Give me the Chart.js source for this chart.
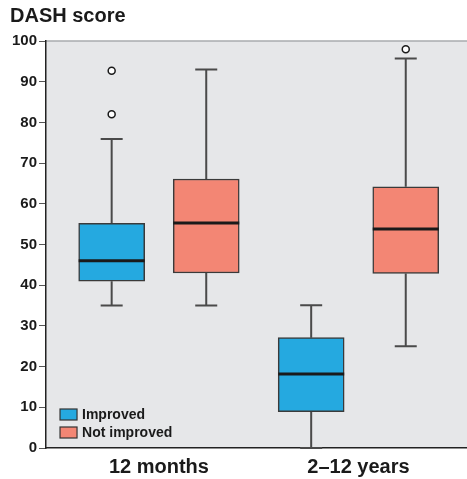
<!DOCTYPE html>
<html>
<head>
<title>DASH score</title>
<script src="https://cdn.jsdelivr.net/npm/chart.js@4"></script>
<style>
body { margin: 0; background: #fff; }
</style>
</head>
<body>
<canvas id="dashChart" width="467" height="479"></canvas>
<script>
var categories = ['12 months', '2\u201312 years'];
var seriesNames = ['Improved', 'Not improved'];
var yTicks = [0, 10, 20, 30, 40, 50, 60, 70, 80, 90, 100];

var improvedMin = [35, 0];
var improvedQ1 = [41, 8.9];
var improvedMedian = [46, 18.2];
var improvedQ3 = [55.2, 27.1];
var improvedMax = [75.9, 35.1];
var improvedOutliers = [[92.7, 82], []];

var notImprovedMin = [35, 25];
var notImprovedQ1 = [43, 42.9];
var notImprovedMedian = [55.3, 53.8];
var notImprovedQ3 = [66.1, 64.2];
var notImprovedMax = [93, 95.7];
var notImprovedOutliers = [[], [98]];

var FONT = "'Liberation Sans', Arial, sans-serif";
var BLUE = '#25a9e0';
var SALMON = '#f38674';
var OFFSET = 0.237;   // distance of each box from the category centre, in x units
var BOX_W = 66;       // px
var CAP_W = 22;       // px

var series = [
    { name: seriesNames[0], color: BLUE, off: -OFFSET, min: improvedMin, q1: improvedQ1, med: improvedMedian, q3: improvedQ3, max: improvedMax, out: improvedOutliers },
    { name: seriesNames[1], color: SALMON, off: OFFSET, min: notImprovedMin, q1: notImprovedQ1, med: notImprovedMedian, q3: notImprovedQ3, max: notImprovedMax, out: notImprovedOutliers }
];

function boxData(s) {
    return s.q1.map(function(v, i) {
        return { x: i + 1 + s.off, y: [v, s.q3[i]] };
    });
}

function outlierData() {
    var pts = [];
    series.forEach(function(s) {
        s.out.forEach(function(list, i) {
            list.forEach(function(v) { pts.push({ x: i + 1 + s.off, y: v }); });
        });
    });
    return pts;
}

var boxExtras = {
    id: 'boxExtras',
    beforeDraw: function(chart) {
        var ctx = chart.ctx, a = chart.chartArea;
        ctx.save();
        ctx.fillStyle = '#e6e7e9';
        ctx.fillRect(a.left, a.top, a.right - a.left, a.bottom - a.top);
        ctx.strokeStyle = '#a9abae';
        ctx.lineWidth = 1.5;
        ctx.beginPath();
        ctx.moveTo(a.left, a.top);
        ctx.lineTo(a.right, a.top);
        ctx.stroke();
        ctx.restore();
    },
    beforeDatasetsDraw: function(chart) {
        var ctx = chart.ctx, xs = chart.scales.x, ys = chart.scales.y;
        ctx.save();
        ctx.strokeStyle = '#4a4a4a';
        ctx.lineWidth = 2;
        series.forEach(function(s) {
            s.min.forEach(function(mn, i) {
                var px = xs.getPixelForValue(i + 1 + s.off);
                var yMin = ys.getPixelForValue(mn), yMax = ys.getPixelForValue(s.max[i]);
                ctx.beginPath();
                ctx.moveTo(px, yMin); ctx.lineTo(px, ys.getPixelForValue(s.q1[i]));
                ctx.moveTo(px, ys.getPixelForValue(s.q3[i])); ctx.lineTo(px, yMax);
                ctx.moveTo(px - CAP_W / 2, yMin); ctx.lineTo(px + CAP_W / 2, yMin);
                ctx.moveTo(px - CAP_W / 2, yMax); ctx.lineTo(px + CAP_W / 2, yMax);
                ctx.stroke();
            });
        });
        ctx.restore();
    },
    afterDatasetsDraw: function(chart) {
        var ctx = chart.ctx, xs = chart.scales.x, ys = chart.scales.y;
        ctx.save();
        ctx.strokeStyle = '#1a1a1a';
        ctx.lineWidth = 3;
        series.forEach(function(s) {
            s.med.forEach(function(m, i) {
                var px = xs.getPixelForValue(i + 1 + s.off);
                var py = ys.getPixelForValue(m);
                ctx.beginPath();
                ctx.moveTo(px - BOX_W / 2, py); ctx.lineTo(px + BOX_W / 2, py);
                ctx.stroke();
            });
        });
        ctx.restore();
    },
    afterDraw: function(chart) {
        // legend in lower left corner of the plot
        var ctx = chart.ctx, a = chart.chartArea;
        ctx.save();
        ctx.font = 'bold 14px ' + FONT;
        ctx.textBaseline = 'middle';
        series.forEach(function(s, k) {
            var x = a.left + 14, y = a.bottom - 39 + k * 18;
            ctx.fillStyle = s.color;
            ctx.fillRect(x, y, 17, 11);
            ctx.strokeStyle = '#333';
            ctx.lineWidth = 1.2;
            ctx.strokeRect(x, y, 17, 11);
            ctx.fillStyle = '#1a1a1a';
            ctx.fillText(s.name, x + 22, y + 6);
        });
        ctx.restore();
    }
};

var ctx = document.getElementById('dashChart').getContext('2d');
var dashChart = new Chart(ctx, {
    type: 'bar',
    data: {
        datasets: [
            {
                type: 'scatter',
                label: 'Outliers',
                data: outlierData(),
                pointRadius: 3.5,
                pointBackgroundColor: '#ffffff',
                pointBorderColor: '#1a1a1a',
                pointBorderWidth: 1.5
            },
            {
                label: series[0].name,
                data: boxData(series[0]),
                backgroundColor: BLUE,
                borderColor: '#3a3a3a',
                borderWidth: 1.5,
                borderSkipped: false,
                barThickness: BOX_W,
                grouped: false
            },
            {
                label: series[1].name,
                data: boxData(series[1]),
                backgroundColor: SALMON,
                borderColor: '#3a3a3a',
                borderWidth: 1.5,
                borderSkipped: false,
                barThickness: BOX_W,
                grouped: false
            }
        ]
    },
    options: {
        responsive: false,
        animation: false,
        layout: { autoPadding: false, padding: { left: 10, right: 0, top: 0, bottom: -7 } },
        plugins: {
            legend: { display: false },
            tooltip: { enabled: false },
            title: {
                display: true,
                text: 'DASH score',
                align: 'start',
                color: '#1a1a1a',
                font: { family: FONT, size: 20, weight: 'bold' },
                padding: { top: 4, bottom: 13 }
            }
        },
        scales: {
            x: {
                type: 'linear',
                offset: false,
                grace: 0,
                min: 0.434,
                max: 2.544,
                afterBuildTicks: function(scale) {
                    scale.ticks = categories.map(function(c, i) { return { value: i + 1 }; });
                },
                ticks: {
                    callback: function(v) { return categories[v - 1]; },
                    color: '#1a1a1a',
                    font: { family: FONT, size: 20, weight: 'bold' },
                    padding: 7,
                    maxRotation: 0,
                    autoSkip: false
                },
                grid: { drawOnChartArea: false, drawTicks: false, tickLength: 0 },
                border: { display: true, color: '#222', width: 1.5 }
            },
            y: {
                min: 0,
                max: 100,
                afterBuildTicks: function(scale) {
                    scale.ticks = yTicks.map(function(v) { return { value: v }; });
                },
                ticks: {
                    color: '#1a1a1a',
                    font: { family: FONT, size: 15, weight: 'bold' },
                    padding: 2
                },
                grid: { drawOnChartArea: false, drawTicks: true, tickLength: 7, color: '#555' },
                border: { display: true, color: '#222', width: 1.5 }
            }
        }
    },
    plugins: [boxExtras]
});
</script>
</body>
</html>
